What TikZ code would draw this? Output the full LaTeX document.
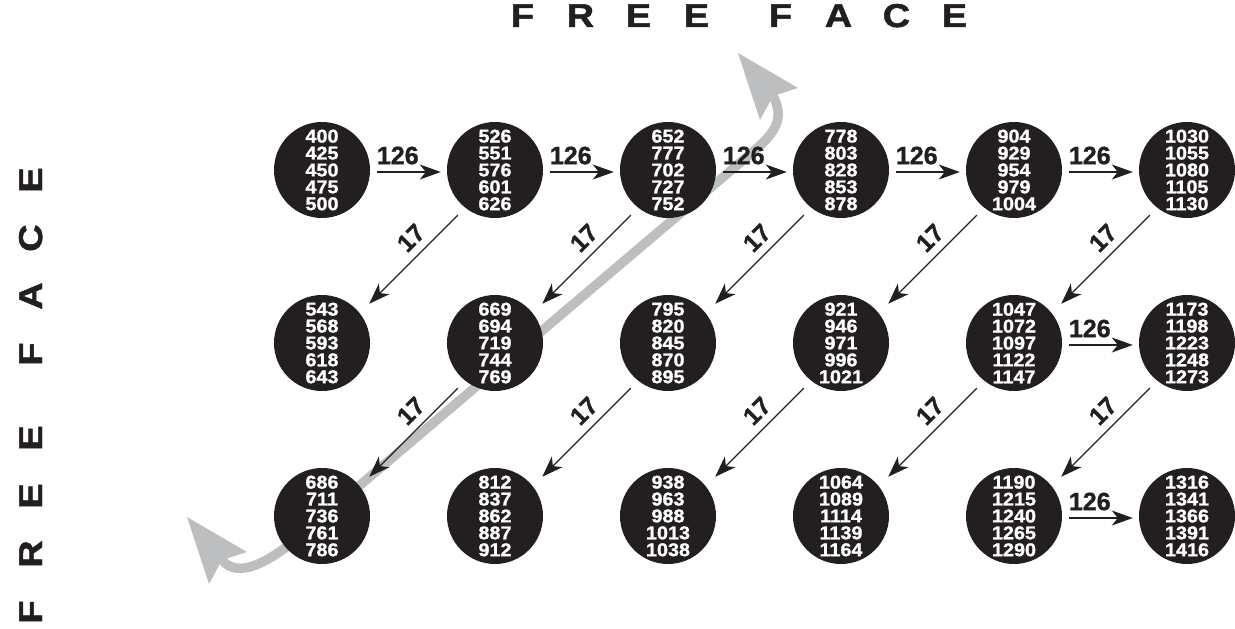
\documentclass[tikz,border=0pt]{standalone}
\usepackage{fontspec}
\setmainfont{Liberation Sans}
\newfontfamily\heavyfont{Liberation Sans}[BoldFeatures={FakeBold=1.2}]
\newfontfamily\cellfont{Liberation Sans}[BoldFeatures={FakeBold=1.2,FakeStretch=1.07}]
\newfontfamily\titlefont{Liberation Sans}[BoldFeatures={FakeBold=1.5,FakeStretch=1.15}]
\usetikzlibrary{arrows.meta,backgrounds}
\definecolor{ink}{HTML}{231F20}
\definecolor{trackgray}{HTML}{BCBEC0}
\newcommand{\tl}[1]{\makebox[58pt]{#1}}
\begin{document}
\begin{tikzpicture}[x=1pt,y=-1pt,
  cell/.style={circle, fill=ink, minimum size=96pt, inner sep=0pt, text=white,
    font=\fontsize{18.5}{16.9}\selectfont\cellfont\bfseries, align=center},
  harr/.style={draw=ink, line width=1.3pt, -{Stealth[length=21pt,width=15pt,inset=6pt]},
    shorten <=7pt, shorten >=6pt, transform canvas={yshift=-2pt}},
  darr/.style={draw=ink, line width=1.3pt, -{Stealth[length=21pt,width=15pt,inset=6pt]},
    shorten <=10pt, shorten >=13pt, transform canvas={xshift=4pt,yshift=-4pt}},
  hlab/.style={font=\fontsize{25}{25}\selectfont\heavyfont\bfseries, text=ink, inner sep=1pt, above=6pt, pos=0.36},
  dlab/.style={font=\fontsize{24.5}{24.5}\selectfont\heavyfont\bfseries, text=ink, inner sep=1pt, sloped, above=7pt, pos=0.4},
  title/.style={font=\fontsize{33}{33}\selectfont\titlefont\bfseries, text=ink, inner sep=0pt, anchor=base},
]
\useasboundingbox (0,0) rectangle (1235,629);

% row 1
\node[cell] (r1c1) at (322,170) {400\\425\\450\\475\\500};
\node[cell] (r1c2) at (495,170) {526\\551\\576\\601\\626};
\node[cell] (r1c3) at (668,170) {652\\777\\702\\727\\752};
\node[cell] (r1c4) at (841,170) {778\\803\\828\\853\\878};
\node[cell] (r1c5) at (1014,170) {904\\929\\954\\979\\1004};
\node[cell] (r1c6) at (1187,170) {1030\\1055\\1080\\1105\\1130};
% row 2
\node[cell] (r2c1) at (322,343) {543\\568\\593\\618\\643};
\node[cell] (r2c2) at (495,343) {669\\694\\719\\744\\769};
\node[cell] (r2c3) at (668,343) {795\\820\\845\\870\\895};
\node[cell] (r2c4) at (841,343) {921\\946\\971\\996\\1021};
\node[cell] (r2c5) at (1014,343) {1047\\1072\\1097\\1122\\1147};
\node[cell] (r2c6) at (1187,343) {1173\\1198\\1223\\1248\\1273};
% row 3
\node[cell] (r3c1) at (322,516) {686\\711\\736\\761\\786};
\node[cell] (r3c2) at (495,516) {812\\837\\862\\887\\912};
\node[cell] (r3c3) at (668,516) {938\\963\\988\\1013\\1038};
\node[cell] (r3c4) at (841,516) {1064\\1089\\1114\\1139\\1164};
\node[cell] (r3c5) at (1014,516) {1190\\1215\\1240\\1265\\1290};
\node[cell] (r3c6) at (1187,516) {1316\\1341\\1366\\1391\\1416};

% gray free-face path
\begin{pgfonlayer}{background}
\coordinate (gstart) at (222,560);
\coordinate (gend) at (773,96);
\draw[trackgray, line width=9.5pt] (gstart) .. controls (238,579) and (268,563) .. (300,536)
  -- (755,150) .. controls (775,133) and (785,118) .. (gend);
\fill[trackgray] (738,53) -- (798,88) -- (gend) -- (760,120) -- cycle;
\fill[trackgray] (187,517) -- (247,552) -- (gstart) -- (209,584) -- cycle;
\end{pgfonlayer}

% horizontal arrows
\foreach \a/\b in {r1c1/r1c2, r1c2/r1c3, r1c3/r1c4, r1c4/r1c5, r1c5/r1c6, r2c5/r2c6, r3c5/r3c6}
  \draw[harr] (\a) -- node[hlab] {126} (\b);

% diagonal arrows
\foreach \a/\b in {r1c2/r2c1, r1c3/r2c2, r1c4/r2c3, r1c5/r2c4, r1c6/r2c5,
                   r2c2/r3c1, r2c3/r3c2, r2c4/r3c3, r2c5/r3c4, r2c6/r3c5}
  \draw[darr] (\a) -- node[dlab] {17} (\b);

% titles
\node[title] (toptitle) at (738.5,27) {\tl{F}\tl{R}\tl{E}\tl{E}\hspace{26pt}\tl{F}\tl{A}\tl{C}\tl{E}};
\node[title, rotate=90] (lefttitle) at (42,396) {\tl{F}\tl{R}\tl{E}\tl{E}\hspace{26pt}\tl{F}\tl{A}\tl{C}\tl{E}};
\end{tikzpicture}
\end{document}
